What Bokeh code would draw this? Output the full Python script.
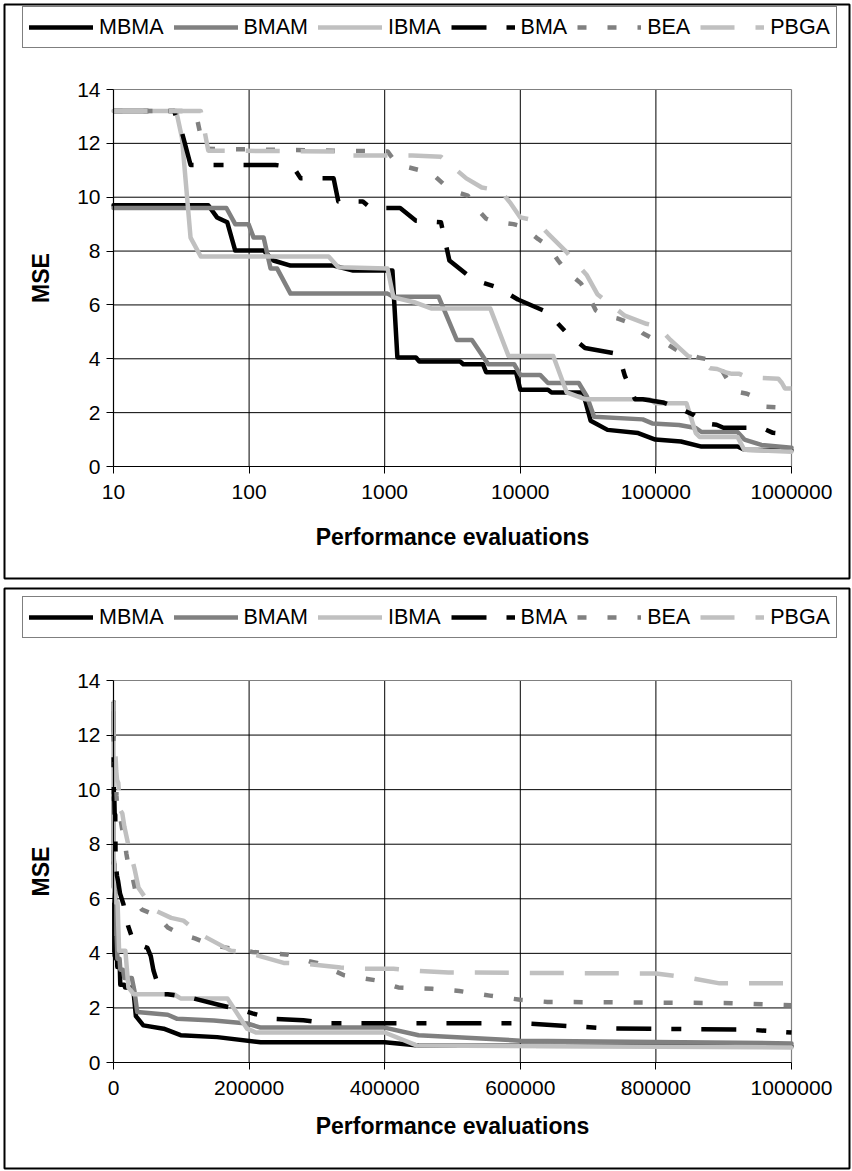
import math
from bokeh.plotting import figure
from bokeh.layouts import column
from bokeh.models import Legend, LegendItem, FixedTicker, Range1d, LinearAxis, LogAxis
from bokeh.embed import file_html
from bokeh.resources import INLINE

# ---------------- data ----------------
series_names = ["MBMA", "BMAM", "IBMA", "BMA", "BEA", "PBGA"]

MBMA_x = [10, 50, 58, 69, 79, 128, 151, 202, 420, 585, 1140, 1240, 1700, 1800, 3600, 3800, 5300, 5600, 9300, 10000,
          16000, 17000, 29000, 33000, 44000, 74000, 99000, 153000, 217000, 400000, 450000, 1000000]
MBMA_y = [9.7, 9.7, 9.25, 9.07, 8.02, 8.02, 7.65, 7.46, 7.46, 7.28, 7.28, 4.05, 4.05, 3.9, 3.9, 3.8, 3.8, 3.5, 3.5, 2.85,
          2.85, 2.75, 2.75, 1.7, 1.36, 1.24, 1.0, 0.93, 0.74, 0.74, 0.62, 0.6]

BMAM_x = [10, 68, 79, 99, 108, 128, 144, 161, 202, 1050, 1160, 2500, 3400, 4400, 5800, 9000, 10000, 14000, 16000, 27000,
          31000, 35000, 80000, 94000, 148000, 197000, 217000, 400000, 450000, 600000, 1000000]
BMAM_y = [9.6, 9.6, 9.0, 9.0, 8.5, 8.5, 7.35, 7.35, 6.42, 6.42, 6.3, 6.3, 4.7, 4.7, 3.8, 3.8, 3.4, 3.4, 3.1, 3.1,
          2.6, 1.85, 1.75, 1.6, 1.54, 1.43, 1.28, 1.28, 1.0, 0.8, 0.7]

IBMA_x = [10, 29, 32, 37, 44, 386, 455, 1050, 1160, 1650, 2200, 6000, 8200, 17500, 22000, 30000, 89000, 99000, 168000,
          197000, 210000, 400000, 448000, 1000000]
IBMA_y = [13.2, 13.2, 12.2, 8.5, 7.8, 7.8, 7.4, 7.35, 6.28, 6.1, 5.87, 5.87, 4.1, 4.1, 2.75, 2.5, 2.5, 2.35, 2.35,
          1.24, 1.1, 1.1, 0.62, 0.55]

BMA_x = [10, 28, 32, 37, 156, 213, 240, 420, 455, 690, 790, 1300, 1700, 2600, 3000, 4100, 5100, 6800, 9600, 14700,
         18600, 21600, 30000, 50000, 55000, 59000, 70000, 80000, 113000, 158000, 192000, 205000, 235000, 280000,
         315000, 600000, 730000, 940000, 1000000]
BMA_y = [13.2, 13.2, 12.4, 11.2, 11.2, 11.1, 10.7, 10.7, 9.84, 9.84, 9.6, 9.6, 9.13, 9.07, 7.65, 7.1, 6.85, 6.65, 6.2, 5.8,
         5.35, 5.0, 4.4, 4.2, 3.9, 3.37, 2.5, 2.5, 2.38, 2.1, 1.9, 1.8, 1.6, 1.55,
         1.44, 1.44, 1.25, 1.2, 1.1]

BEA_x = [10, 34, 41, 46, 1050, 1160, 1260, 1830, 2100, 2700, 3100, 4100, 4400, 5600, 6300, 8900, 10500, 13500, 16000,
         19000, 21600, 28000, 31000, 36000, 42000, 52000, 67000, 80000, 99000, 120000, 145000, 205000, 258000, 290000,
         300000, 340000, 390000, 420000, 470000, 510000, 555000, 600000, 640000, 900000, 1000000]
BEA_y = [13.2, 13.2, 13.0, 11.8, 11.7, 11.4, 11.2, 11.0, 11.0, 10.5, 10.25, 10.06, 9.77, 9.2, 9.1, 9.0, 8.9, 8.45, 8.2,
         7.65, 7.28, 6.8, 6.46, 5.8, 5.6, 5.5, 5.3, 4.95, 4.7, 4.55, 4.3, 4.05, 3.95, 3.7,
         3.65, 3.2, 3.0, 2.75, 2.7, 2.62, 2.45, 2.3, 2.22, 2.18, 2.1]

PBGA_x = [10, 44, 50, 480, 500, 1600, 2600, 4000, 5200, 7100, 8500, 10000, 13000, 16000, 21600, 31000, 37000, 59000,
          85000, 103000, 128000, 173000, 202000, 251000, 283000, 335000, 364000, 413000, 443000, 494000, 800000,
          850000, 894000, 1000000]
PBGA_y = [13.2, 13.2, 11.73, 11.7, 11.55, 11.55, 11.5, 10.7, 10.36, 10.25, 9.77, 9.25, 9.13, 8.65, 8.0, 7.1, 6.4, 5.6,
          5.3, 5.2, 4.7, 4.1, 4.0, 3.65, 3.62, 3.48, 3.44, 3.44, 3.37, 3.3, 3.26,
          3.1, 2.9, 2.9]

series_x = [MBMA_x, BMAM_x, IBMA_x, BMA_x, BEA_x, PBGA_x]
series_y = [MBMA_y, BMAM_y, IBMA_y, BMA_y, BEA_y, PBGA_y]

y_ticks = [0, 2, 4, 6, 8, 10, 12, 14]
y_tick_labels = ["0", "2", "4", "6", "8", "10", "12", "14"]
log_x_ticks = [10, 100, 1000, 10000, 100000, 1000000]
log_x_tick_labels = ["10", "100", "1000", "10000", "100000", "1000000"]
lin_x_ticks = [0, 200000, 400000, 600000, 800000, 1000000]
lin_x_tick_labels = ["0", "200000", "400000", "600000", "800000", "1000000"]

x_title = "Performance evaluations"
y_title = "MSE"

# ---------------- styles / layout ----------------
FONT = "Liberation Sans"
colors = ["black", "#808080", "#C0C0C0", "black", "#808080", "#C0C0C0"]
dashes = ["solid", "solid", "solid", "35 20 10 20", "9 21", "34 21"]
LW = 4.5
W = 852
LEG_H = 40
PLOT_L, PLOT_R = 113, 791          # plot-area pixel edges (horizontal)
BOX_L, BOX_R = 4, 849              # chart-area border (horizontal)


def make_panel(log, height, box_top, box_bottom, plot_top, plot_bottom, legend_top,
               tick_standoff, title_standoff):
    xt = log_x_ticks if log else lin_x_ticks
    xl = log_x_tick_labels if log else lin_x_tick_labels
    y0, y1 = y_ticks[0], y_ticks[-1]

    # ranges chosen so that the data extent lands on the plot area inside the chart-area frame
    if log:
        a, b = math.log10(xt[0]), math.log10(xt[-1])
        per = (PLOT_R - PLOT_L) / (b - a)
        xr = Range1d(10 ** (a - (PLOT_L - BOX_L) / per), 10 ** (b + (BOX_R - PLOT_R) / per))
    else:
        per = (PLOT_R - PLOT_L) / (xt[-1] - xt[0])
        xr = Range1d(xt[0] - (PLOT_L - BOX_L) / per, xt[-1] + (BOX_R - PLOT_R) / per)
    perY = (plot_bottom - plot_top) / (y1 - y0)
    yr = Range1d(y0 - (box_bottom - plot_bottom) / perY, y1 + (plot_top - box_top) / perY)

    kw = dict(x_axis_type="log") if log else {}
    p = figure(width=W, height=height, x_range=xr, y_range=yr,
               output_backend="svg", toolbar_location=None, **kw,
               x_axis_location=None, y_axis_location=None,
               min_border_left=BOX_L, min_border_right=W - BOX_R,
               min_border_top=box_top, min_border_bottom=height - box_bottom)
    p.xgrid.visible = False
    p.ygrid.visible = False
    p.outline_line_color = "black"
    p.outline_line_width = 2
    p.background_fill_color = "white"
    p.border_fill_color = "white"

    # gridlines and plot-area border
    gx = xt[1:-1]
    gy = y_ticks[1:-1]
    p.segment(x0=gx, x1=gx, y0=[y0] * len(gx), y1=[y1] * len(gx), line_color="black", line_width=1, level="underlay")
    p.segment(x0=[xt[0]] * len(gy), x1=[xt[-1]] * len(gy), y0=gy, y1=gy, line_color="black", line_width=1,
              level="underlay")
    p.segment(x0=[xt[0], xt[-1]], x1=[xt[-1], xt[-1]], y0=[y1, y0], y1=[y1, y1], line_color="#808080",
              line_width=1.2, level="underlay")

    renderers = []
    for xs, ys, c, d in zip(series_x, series_y, colors, dashes):
        cap = "round" if d == "solid" else "butt"
        r = p.line(xs, ys, line_color=c, line_width=LW, line_dash=d, line_cap=cap, line_join="round")
        renderers.append(r)

    xaxis = (LogAxis if log else LinearAxis)(fixed_location=y0, bounds=(xt[0], xt[-1]))
    yaxis = LinearAxis(fixed_location=xt[0], bounds=(y0, y1))
    for ax in (xaxis, yaxis):
        ax.axis_line_color = "black"
        ax.axis_line_width = 1.2
        ax.major_tick_line_color = "black"
        ax.major_tick_out = 7
        ax.major_tick_in = 0
        ax.minor_tick_line_color = None
        ax.major_label_text_font = FONT
        ax.major_label_text_font_size = "21px"
        ax.major_label_text_color = "black"
        ax.axis_label_text_font = FONT
        ax.axis_label_text_font_style = "bold"
        ax.axis_label_text_font_size = "23px"
        ax.axis_label_text_color = "black"

    xaxis.ticker = FixedTicker(ticks=xt)
    xaxis.major_label_overrides = {t: s for t, s in zip(xt, xl)}
    xaxis.axis_label = x_title
    xaxis.major_label_standoff = tick_standoff
    xaxis.axis_label_standoff = title_standoff

    yaxis.ticker = FixedTicker(ticks=y_ticks)
    yaxis.major_label_overrides = {t: s for t, s in zip(y_ticks, y_tick_labels)}
    yaxis.axis_label = y_title
    yaxis.major_label_standoff = 6
    yaxis.axis_label_standoff = 20

    p.add_layout(xaxis, "below")
    p.add_layout(yaxis, "left")

    items = [LegendItem(label=n, renderers=[r]) for n, r in zip(series_names, renderers)]
    legend = Legend(items=items, orientation="horizontal",
                    location=(22 - BOX_L, box_bottom - legend_top - LEG_H),
                    glyph_width=64, glyph_height=28, label_standoff=6, spacing=10, padding=6, margin=0,
                    label_text_font=FONT, label_text_font_size="21.5px", label_text_color="black",
                    border_line_color="black", border_line_width=1.2,
                    background_fill_color="white", background_fill_alpha=1.0)
    p.add_layout(legend, "center")
    return p


top = make_panel(True, 583, 4, 578, 89, 466, 8, 11, 22)
bottom = make_panel(False, 588, 5, 585, 97, 479, 15, 11, 15)

layout = column(top, bottom, spacing=0)
open("out.html", "w").write(file_html(layout, INLINE))
